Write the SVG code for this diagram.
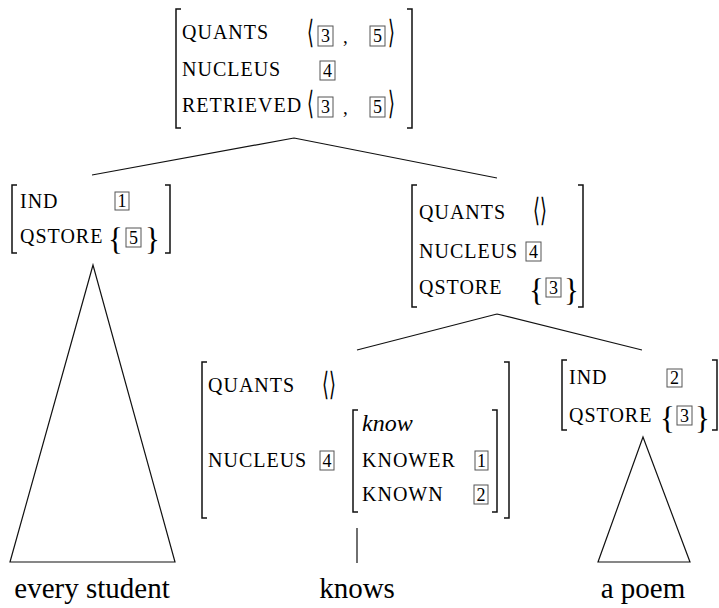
<svg xmlns="http://www.w3.org/2000/svg" width="719" height="608" viewBox="0 0 719 608" font-family="'Liberation Serif', 'Times New Roman', serif">
<style>
text{fill:#000}
.f{font-size:20px;letter-spacing:1px}
.d{font-size:18px;text-anchor:middle}
.br{fill:none;stroke:#111;stroke-width:1.5}
.bx{fill:none;stroke:#555;stroke-width:1}
.ang{font-family:'DejaVu Sans',sans-serif;font-size:22px;font-weight:200}
.cb{font-size:31px}
.w{font-size:29px;text-anchor:middle}
.it{font-size:24px;font-style:italic}
.ln{fill:none;stroke:#111;stroke-width:1.2}
</style>
<g id="connectors">
<path class="ln" d="M294,138 L92,175 M294,138 L497,178 M497,314 L357,350 M497,314 L642,350 M357,528 V563"/>
</g>
<g id="n-top">
<path class="br" d="M181,9 H176 V128 H181 M407,9 H412 V128 H407"/>
<text class="f" x="182" y="39">QUANTS</text>
<text class="f" x="182" y="76">NUCLEUS</text>
<text class="f" x="182" y="112">RETRIEVED</text>
<text class="ang" transform="translate(307,43) scale(0.8,1.45)">⟨</text>
<rect class="bx" x="318" y="26" width="15" height="20"/><text class="d" x="325.5" y="42">3</text>
<text x="343" y="43" style="font-size:19px">,</text>
<rect class="bx" x="370" y="26" width="15" height="20"/><text class="d" x="377.5" y="42">5</text>
<text class="ang" transform="translate(388,43) scale(0.8,1.45)">⟩</text>
<rect class="bx" x="320" y="61" width="15" height="19"/><text class="d" x="327.5" y="77">4</text>
<text class="ang" transform="translate(307,114) scale(0.8,1.45)">⟨</text>
<rect class="bx" x="318" y="97" width="15" height="20"/><text class="d" x="325.5" y="113">3</text>
<text x="343" y="114" style="font-size:19px">,</text>
<rect class="bx" x="370" y="97" width="15" height="20"/><text class="d" x="377.5" y="113">5</text>
<text class="ang" transform="translate(388,114) scale(0.8,1.45)">⟩</text>
</g>
<g id="n-left">
<path class="br" d="M17,185 H12 V253 H17 M165,185 H170 V253 H165"/>
<text class="f" x="20" y="208">IND</text>
<rect class="bx" x="115" y="192" width="14" height="18"/><text class="d" x="122" y="207">1</text>
<text class="f" x="20" y="243">QSTORE</text>
<text class="cb" x="108" y="250">{</text>
<rect class="bx" x="126" y="228" width="15" height="19"/><text class="d" x="133.5" y="244">5</text>
<text class="cb" x="145" y="250">}</text>
</g>
<g id="n-right">
<path class="br" d="M417,185 H412 V307 H417 M578,185 H583 V307 H578"/>
<text class="f" x="419" y="219">QUANTS</text>
<text class="ang" transform="translate(533,221) scale(0.8,1.45)">⟨⟩</text>
<text class="f" x="419" y="258">NUCLEUS</text>
<rect class="bx" x="526" y="242" width="15" height="19"/><text class="d" x="533.5" y="258">4</text>
<text class="f" x="419" y="294">QSTORE</text>
<text class="cb" x="529" y="301">{</text>
<rect class="bx" x="546" y="278" width="15" height="19"/><text class="d" x="553.5" y="294">3</text>
<text class="cb" x="564" y="301">}</text>
</g>
<g id="n-every-student">
<path class="ln" d="M93,265 L10,562 H175 Z"/>
<text class="w" x="92" y="598">every student</text>
</g>
<g id="n-knows">
<path class="br" d="M207,362 H202 V518 H207 M504,362 H509 V518 H504"/>
<text class="f" x="208" y="392">QUANTS</text>
<text class="ang" transform="translate(322,395) scale(0.8,1.45)">⟨⟩</text>
<text class="f" x="208" y="467">NUCLEUS</text>
<rect class="bx" x="320" y="451" width="14" height="19"/><text class="d" x="327" y="467">4</text>
<path class="br" d="M358,410 H353 V512 H358 M492,410 H497 V512 H492"/>
<text class="it" x="362" y="431">know</text>
<text class="f" x="362" y="467">KNOWER</text>
<rect class="bx" x="475" y="451" width="13" height="19"/><text class="d" x="481.5" y="467">1</text>
<text class="f" x="362" y="501">KNOWN</text>
<rect class="bx" x="474" y="485" width="14" height="19"/><text class="d" x="481" y="501">2</text>
<text class="w" x="357" y="598">knows</text>
</g>
<g id="n-a-poem">
<path class="br" d="M567,360 H562 V430 H567 M712,360 H717 V430 H712"/>
<text class="f" x="569" y="384">IND</text>
<rect class="bx" x="667" y="369" width="15" height="18"/><text class="d" x="674.5" y="384">2</text>
<text class="f" x="569" y="422">QSTORE</text>
<text class="cb" x="660" y="429">{</text>
<rect class="bx" x="677" y="406" width="15" height="19"/><text class="d" x="684.5" y="422">3</text>
<text class="cb" x="695" y="429">}</text>
<path class="ln" d="M643,437 L598,562 H690 Z"/>
<text class="w" x="643" y="598">a poem</text>
</g>
</svg>
